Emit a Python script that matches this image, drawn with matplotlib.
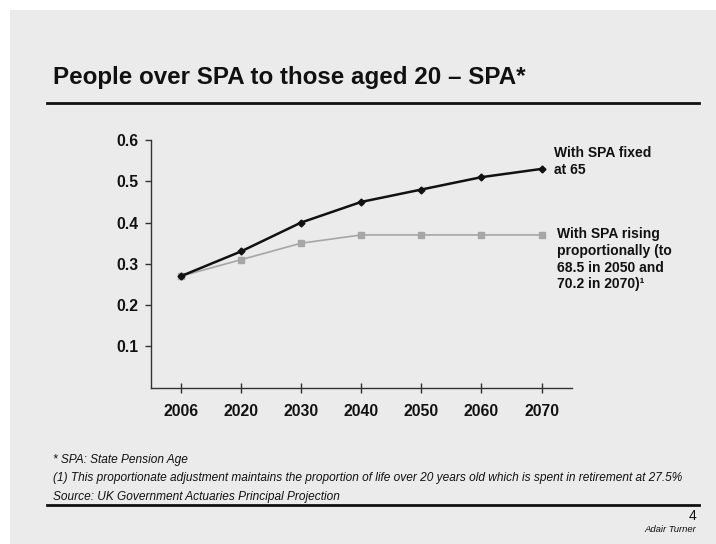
import matplotlib.pyplot as plt
from matplotlib.lines import Line2D
from matplotlib.patches import Rectangle

years = ['2006', '2020', '2030', '2040', '2050', '2060', '2070']
spa_fixed = [0.27, 0.33, 0.40, 0.45, 0.48, 0.51, 0.53]
spa_rising = [0.27, 0.31, 0.35, 0.37, 0.37, 0.37, 0.37]
yticks = [0.1, 0.2, 0.3, 0.4, 0.5, 0.6]

plt.rcParams['font.family'] = ['Liberation Sans', 'DejaVu Sans']

bg = '#ebebeb'
ink = '#111111'
fig = plt.figure(figsize=(7.16, 5.44), dpi=100, facecolor='white')

W, H = 716.0, 544.0
def fx(px):
    return px / W
def fy(py):
    return 1 - py / H

# slide background, with a thin white margin top and left
fig.add_artist(Rectangle((fx(10), 0), 1 - fx(10), fy(10), transform=fig.transFigure,
                         facecolor=bg, edgecolor='none', zorder=0))

# title and rules
fig.text(fx(53), fy(78), 'People over SPA to those aged 20 \u2013 SPA*', fontsize=17.4,
         fontweight='bold', va='center', ha='left', color=ink)
fig.add_artist(Line2D([fx(47), fx(699)], [fy(103), fy(103)], color=ink, lw=2))
fig.add_artist(Line2D([fx(47), fx(699)], [fy(505), fy(505)], color=ink, lw=2))

ax = fig.add_axes([fx(150.7), fy(387.7), fx(571.7) - fx(150.7), fy(140) - fy(387.7)])
ax.set_facecolor('none')
x = list(range(len(years)))

ax.plot(x, spa_rising, color='#a6a6a6', lw=1.2, marker='s', markersize=4, zorder=2)
ax.plot(x, spa_fixed, color=ink, lw=1.8, marker='D', markersize=3.5, zorder=3)

ax.set_xlim(-0.5, 6.5)
ax.set_ylim(0, 0.6)
ax.set_xticks(x)
ax.set_xticklabels(years)
ax.set_yticks(yticks)
ax.set_yticklabels(['%.1f' % v for v in yticks])
for s in ['top', 'right']:
    ax.spines[s].set_visible(False)
for s in ['left', 'bottom']:
    ax.spines[s].set_color('#333333')
    ax.spines[s].set_linewidth(1.0)
ax.tick_params(axis='y', direction='out', length=4, width=1, color='#333333', pad=5)
ax.tick_params(axis='x', direction='inout', length=7, width=1, color='#333333', pad=8)
for lab in ax.get_xticklabels() + ax.get_yticklabels():
    lab.set_fontsize(11.3)
    lab.set_fontweight('bold')
    lab.set_color(ink)

# series labels
fig.text(fx(554), fy(146), 'With SPA fixed\nat 65', fontsize=10, fontweight='bold',
         va='top', ha='left', linespacing=1.25, color=ink)
fig.text(fx(557), fy(227), 'With SPA rising\nproportionally (to\n68.5 in 2050 and\n70.2 in 2070)\u00b9',
         fontsize=10, fontweight='bold', va='top', ha='left', linespacing=1.25, color=ink)

# footnotes
notes = ['* SPA: State Pension Age',
         '(1) This proportionate adjustment maintains the proportion of life over 20 years old which is spent in retirement at 27.5%',
         'Source: UK Government Actuaries Principal Projection']
for i, t in enumerate(notes):
    fig.text(fx(53), fy(460 + 18.5 * i), t, fontsize=8.6, style='italic',
             va='center', ha='left', color=ink)

fig.text(fx(696), fy(516), '4', fontsize=10, va='center', ha='right', color=ink)
fig.text(fx(696), fy(529), 'Adair Turner', fontsize=6.8, style='italic',
         va='center', ha='right', color=ink)

fig.savefig('out.png', dpi=100, facecolor='white')
